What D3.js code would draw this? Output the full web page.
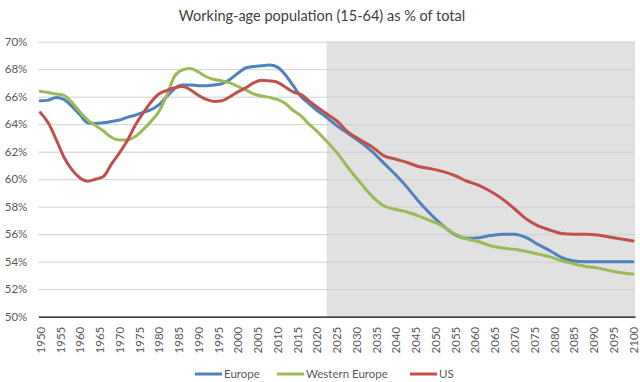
<!DOCTYPE html>
<html><head><meta charset="utf-8">
<script src="https://cdn.jsdelivr.net/npm/d3@7"></script>
<style>html,body{margin:0;padding:0;background:#fff;}svg{display:block;}</style>
</head><body>
<svg id="chart" width="640" height="382"></svg>
<script>
const title = "Working-age population (15-64) as % of total";
const seriesNames = ["Europe", "Western Europe", "US"];
const seriesColors = ["#4F81BD", "#9BBB59", "#C0504D"];
const years = [1950,1952,1954,1956,1958,1960,1962,1964,1966,1968,1970,1972,1974,1976,1978,1980,1982,1984,1986,1988,1990,1992,1994,1996,1998,2000,2002,2004,2006,2008,2010,2012,2014,2016,2018,2020,2022,2025,2028,2031,2034,2037,2040,2043,2046,2049,2052,2055,2058,2061,2064,2067,2070,2073,2076,2079,2082,2085,2088,2091,2094,2097,2100];
const europe = [65.7,65.75,65.95,65.8,65.3,64.7,64.1,64.05,64.1,64.2,64.3,64.5,64.65,64.85,65.05,65.4,66.0,66.6,66.85,66.85,66.8,66.8,66.85,66.95,67.25,67.7,68.1,68.2,68.25,68.3,68.15,67.6,66.8,66.0,65.5,65.0,64.6,63.9,63.3,62.7,62.0,61.15,60.3,59.35,58.3,57.4,56.6,55.95,55.7,55.75,55.9,56.0,56.0,55.75,55.25,54.8,54.3,54.05,54.0,54.0,54.0,54.0,54.0];
const westernEurope = [66.4,66.3,66.2,66.1,65.6,64.9,64.3,63.9,63.5,63.05,62.85,62.85,63.1,63.6,64.2,64.9,66.1,67.5,67.95,68.05,67.8,67.45,67.25,67.15,67.0,66.75,66.5,66.2,66.05,65.95,65.8,65.5,65.0,64.6,64.0,63.5,62.9,61.95,60.8,59.75,58.75,58.05,57.8,57.6,57.3,56.95,56.55,56.0,55.65,55.45,55.15,55.0,54.9,54.75,54.55,54.35,54.05,53.85,53.65,53.55,53.35,53.2,53.1];
const us = [64.85,64.1,62.9,61.6,60.7,60.1,59.85,60.0,60.2,61.1,61.9,62.8,63.9,64.8,65.6,66.2,66.45,66.65,66.75,66.5,66.1,65.8,65.65,65.7,66.0,66.35,66.65,67.0,67.2,67.15,67.05,66.7,66.35,66.15,65.7,65.25,64.85,64.25,63.4,62.85,62.35,61.7,61.45,61.2,60.9,60.75,60.55,60.25,59.85,59.55,59.1,58.55,57.85,57.1,56.6,56.3,56.05,56.0,56.0,55.95,55.8,55.65,55.5];
const xTickYears = d3.range(1950, 2101, 5);
const yTicks = [50,52,54,56,58,60,62,64,66,68,70];
const projectionStart = 2023;
const firstYear = 1950, lastYear = 2100;

const svg = d3.select("#chart");
const font = "Lato, 'Open Sans', sans-serif";
const plotLeft = 38.3, plotRight = 635, plotTop = 41.7, plotBottom = 316.7;
const x = d3.scaleLinear().domain([firstYear - 0.5, lastYear + 0.5]).range([plotLeft, plotRight]);
const y = d3.scaleLinear().domain([50, 70]).range([plotBottom, plotTop]);

// title
svg.append("text").attr("x", 322).attr("y", 21).attr("text-anchor", "middle")
  .attr("font-family", font).attr("font-size", 14.5).attr("fill", "#404040").text(title);

// shaded projection region
svg.append("rect").attr("x", x(projectionStart - 0.5)).attr("y", y(70))
  .attr("width", x(lastYear + 0.5) - x(projectionStart - 0.5)).attr("height", y(50) - y(70))
  .attr("fill", "#E1E1E1");

// gridlines
const yAxis = d3.axisLeft(y).tickValues(yTicks).tickFormat(d => d + "%").tickSize(-(plotRight - plotLeft)).tickPadding(11);
const gy = svg.append("g").attr("transform", `translate(${plotLeft},0)`).call(yAxis);
gy.select(".domain").remove();
gy.selectAll(".tick line").attr("stroke", d => d === 50 ? "none" : "#CFCFCF").attr("stroke-width", 1);
gy.selectAll(".tick text").attr("font-family", font).attr("font-size", 11.5).attr("fill", "#595959");

// x axis
const xAxis = d3.axisBottom(x).tickValues(xTickYears).tickFormat(d3.format("d")).tickSize(0).tickPadding(0);
const gx = svg.append("g").attr("transform", `translate(0,${plotBottom})`).call(xAxis);
gx.select(".domain").attr("stroke", "#000").attr("stroke-width", 1.3);
gx.selectAll(".tick text").attr("font-family", font).attr("font-size", 11.5).attr("fill", "#595959")
  .attr("text-anchor", "end").attr("dy", "0.35em")
  .attr("transform", "translate(0,10) rotate(-90)").attr("x", 0).attr("y", 0);

// lines
const allSeries = [europe, westernEurope, us];
const line = d3.line().x((d, i) => x(years[i])).y(d => y(d)).curve(d3.curveMonotoneX);
allSeries.forEach((vals, k) => {
  svg.append("path").datum(vals).attr("d", line).attr("fill", "none")
    .attr("stroke", seriesColors[k]).attr("stroke-width", 3).attr("stroke-linejoin", "round").attr("stroke-linecap", "round");
});

// legend
const legendX = [195, 277, 410];
seriesNames.forEach((name, k) => {
  const g = svg.append("g").attr("transform", `translate(${legendX[k]},374)`);
  g.append("line").attr("x1", 0).attr("x2", 27).attr("y1", 0).attr("y2", 0).attr("stroke", seriesColors[k]).attr("stroke-width", 3);
  g.append("text").attr("x", 29).attr("y", 0).attr("dy", "0.35em").attr("font-family", font).attr("font-size", 11.5).attr("fill", "#595959").text(name);
});
</script>
</body></html>
